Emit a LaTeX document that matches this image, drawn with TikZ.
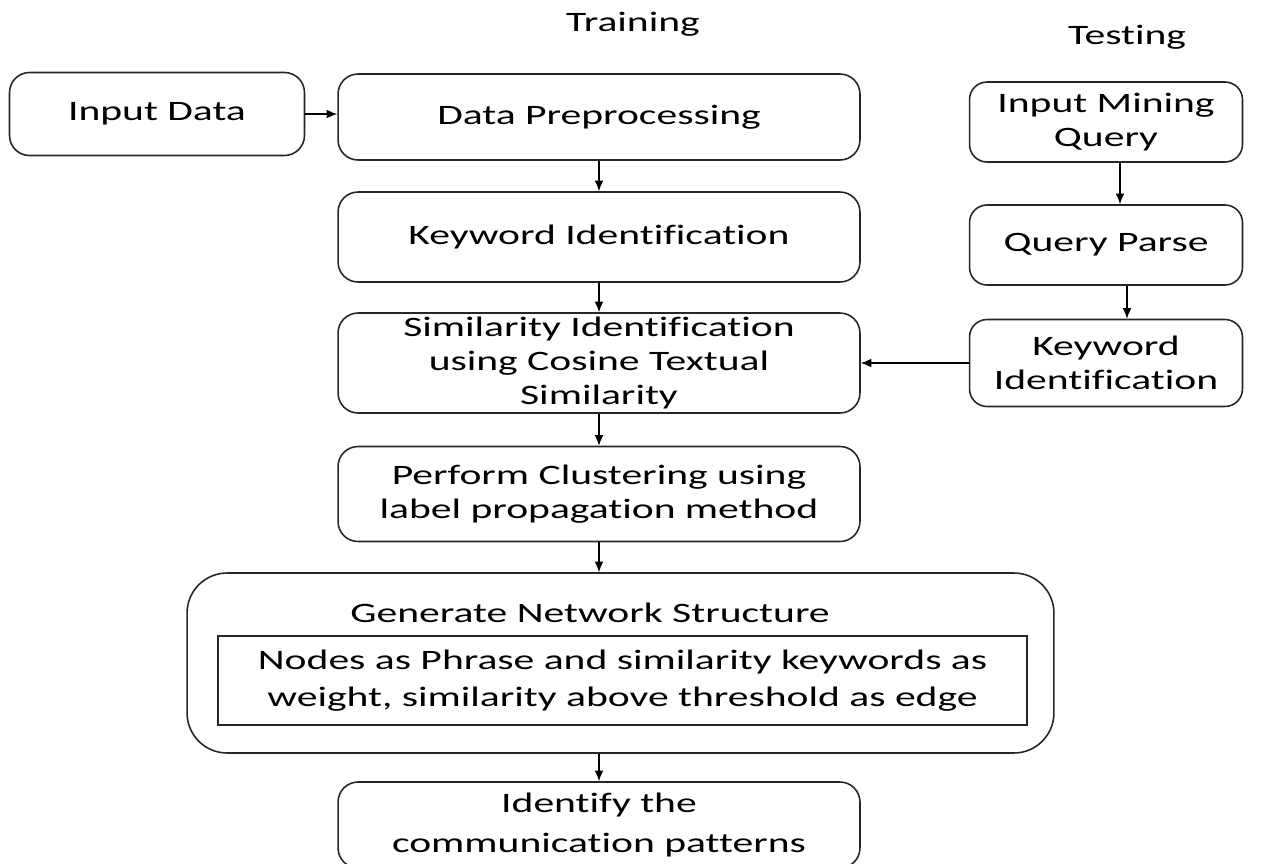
\documentclass[tikz,border=0pt]{standalone}
\usepackage{fontspec}
\setmainfont[FakeStretch=1.48,Ligatures=NoCommon]{Carlito}
\usetikzlibrary{arrows.meta}
\tikzset{
  box/.style={draw=black!85, line width=0.9pt, rounded corners=0.4cm, align=center,
    minimum width=10.44cm, inner sep=0pt, font=\fontsize{16}{19.4}\selectfont},
  plain/.style={draw=black!85, line width=0.9pt, align=center, inner sep=0pt,
    font=\fontsize{16}{21}\selectfont},
  lbl/.style={font=\fontsize{16}{19.4}\selectfont},
  arr/.style={-{Latex[length=6pt,width=5pt]}, line width=0.8pt}
}
\begin{document}
\begin{tikzpicture}[x=0.02cm,y=-0.02cm]
\useasboundingbox (0,0) rectangle (1267,863);
% headings
\node[lbl] (train) at (633,24) {Training};
\node[lbl] (test) at (1127,37) {Testing};

% training column
\node[box, minimum width=5.9cm, minimum height=1.66cm] (inp) at (157,114) {Input Data};
\node[box, minimum height=1.72cm] (pre) at (599,117) {Data Preprocessing};
\node[box, minimum height=1.8cm] (kw) at (599,237) {Keyword Identification};
\node[box, minimum height=2.0cm] (sim) at (599,363) {Similarity Identification\\using Cosine Textual\\Similarity};
\node[box, minimum height=1.9cm] (clu) at (599,494) {Perform Clustering using\\label propagation method};
\node[box, minimum width=17.34cm, minimum height=3.6cm, rounded corners=0.8cm] (gen) at (620.5,663) {};
\node[lbl] (gentitle) at (590,613) {Generate Network Structure};
\node[plain, minimum width=16.18cm, minimum height=1.78cm] (edge) at (622.5,680.5) {Nodes as Phrase and similarity keywords as\\weight, similarity above threshold as edge};
\node[box, minimum height=1.72cm, font=\fontsize{16}{23}\selectfont] (idf) at (599,825) {Identify the\\communication patterns};

% testing column
\node[box, minimum width=5.46cm, minimum height=1.6cm, rounded corners=0.35cm] (qin) at (1106,122) {Input Mining\\Query};
\node[box, minimum width=5.46cm, minimum height=1.6cm, rounded corners=0.35cm] (qps) at (1106,245) {Query Parse};
\node[box, minimum width=5.46cm, minimum height=1.74cm, rounded corners=0.35cm] (qkw) at (1106,363) {Keyword\\Identification};

% connectors
\draw[arr] (inp.east) -- (inp.east -| pre.west);
\draw[arr] (pre.south) -- (kw.north);
\draw[arr] (kw.south) -- (sim.north);
\draw[arr] (sim.south) -- (clu.north);
\draw[arr] (clu.south) -- (clu.south |- gen.north);
\draw[arr] (gen.south -| idf.north) -- (idf.north);
\draw[arr] ([xshift=0.28cm]qin.south) -- ([xshift=0.28cm]qps.north);
\draw[arr] ([xshift=0.42cm]qps.south) -- ([xshift=0.42cm]qkw.north);
\draw[arr] (qkw.west) -- (qkw.west -| sim.east);
\end{tikzpicture}
\end{document}
